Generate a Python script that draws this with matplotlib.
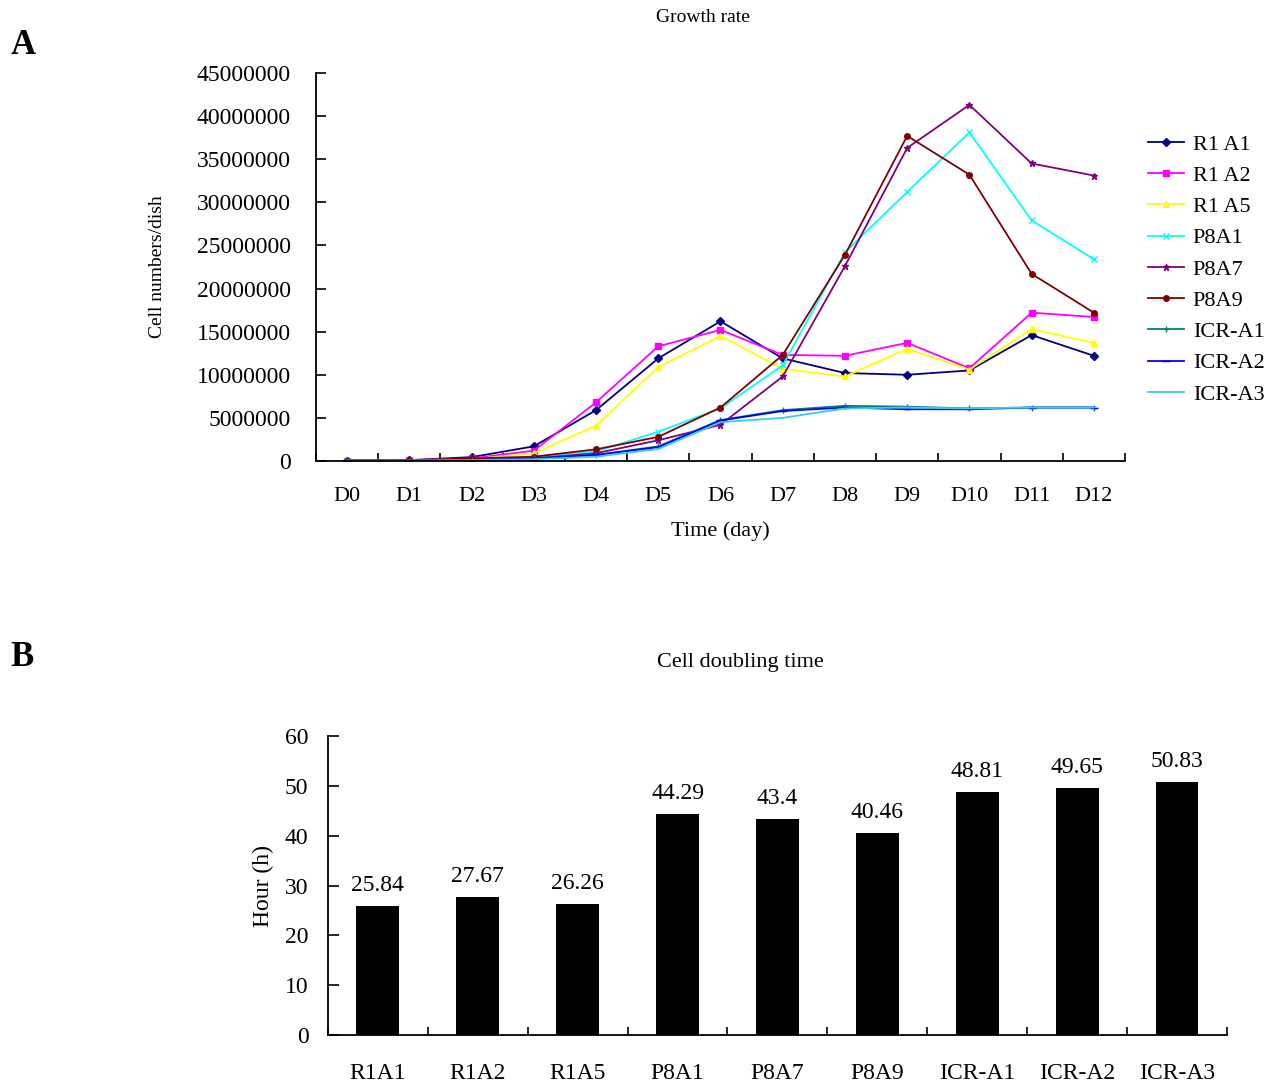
import numpy as np
import matplotlib
matplotlib.use('Agg')
from matplotlib import pyplot as plt
from matplotlib.ticker import FixedLocator, FuncFormatter

plt.rcParams['font.family'] = ['Liberation Serif', 'DejaVu Serif']

# growth rate, cell numbers per dish
days = ['D0', 'D1', 'D2', 'D3', 'D4', 'D5', 'D6', 'D7', 'D8', 'D9', 'D10', 'D11', 'D12']
r1a1 = [50000, 100000, 450000, 1700000, 5900000, 11900000, 16200000, 11900000, 10200000, 10000000, 10500000, 14600000, 12200000]
r1a2 = [50000, 100000, 300000, 1200000, 6800000, 13300000, 15200000, 12300000, 12200000, 13700000, 10750000, 17200000, 16700000]
r1a5 = [20000, 50000, 200000, 900000, 4100000, 10900000, 14500000, 10700000, 9800000, 13000000, 10600000, 15300000, 13700000]
p8a1 = [50000, 80000, 200000, 400000, 1100000, 3400000, 6100000, 11100000, 24200000, 31200000, 38100000, 27900000, 23400000]
p8a7 = [50000, 80000, 200000, 300000, 900000, 2400000, 4200000, 9800000, 22600000, 36300000, 41300000, 34500000, 33100000]
p8a9 = [50000, 80000, 300000, 500000, 1350000, 2800000, 6200000, 12300000, 23900000, 37700000, 33200000, 21700000, 17200000]
icr_a1 = [50000, 50000, 100000, 300000, 700000, 1700000, 4750000, 5900000, 6400000, 6300000, 6100000, 6200000, 6200000]
icr_a2 = [50000, 50000, 100000, 300000, 700000, 1600000, 4700000, 5800000, 6200000, 6000000, 6000000, 6200000, 6200000]
icr_a3 = [50000, 50000, 100000, 200000, 500000, 1400000, 4500000, 5000000, 6100000, 6200000, 6100000, 6200000, 6200000]

# cell doubling time
lines_names = ['R1A1', 'R1A2', 'R1A5', 'P8A1', 'P8A7', 'P8A9', 'ICR-A1', 'ICR-A2', 'ICR-A3']
doubling = [25.84, 27.67, 26.26, 44.29, 43.4, 40.46, 48.81, 49.65, 50.83]

fig = plt.figure(figsize=(12.81, 10.87), dpi=100)

# ---- A: growth rate
ax1 = fig.add_axes([0.2467, 0.5759, 0.6315, 0.357])
series = [r1a1, r1a2, r1a5, p8a1, p8a7, p8a9, icr_a1, icr_a2, icr_a3]
labels = ['R1 A1', 'R1 A2', 'R1 A5', 'P8A1', 'P8A7', 'P8A9', 'ICR-A1', 'ICR-A2', 'ICR-A3']
colors = ['#000080', '#FF00FF', '#FFFF00', '#00FFFF', '#800080', '#800000', '#008080', '#0000FF', '#33CCFF']
markers = ['D', 's', '^', 'x', '*', 'o', '+', '_', None]
msizes = [4, 5, 5, 5, 5, 4, 5, 6, 0]
x = np.arange(len(days))
for s, lab, c, m, ms in zip(series, labels, colors, markers, msizes):
    ax1.plot(x, s, color=c, marker=m, markersize=ms, lw=1.3, label=lab)

ax1.set_xlim(-0.5, len(days) - 0.5)
ax1.set_ylim(0, 45000000)
ax1.yaxis.set_major_locator(FixedLocator(np.arange(0, 45000001, 5000000)))
ax1.yaxis.set_major_formatter(FuncFormatter(lambda v, p: '%d' % v))
ax1.xaxis.set_major_locator(FixedLocator(np.arange(-0.5, len(days), 1)))
ax1.xaxis.set_major_formatter(FuncFormatter(lambda v, p: ''))
ax1.xaxis.set_minor_locator(FixedLocator(x))
ax1.set_xticklabels(days, minor=True)
ax1.tick_params(axis='x', which='major', direction='in', length=6, width=1.2)
ax1.tick_params(axis='x', which='minor', length=0, pad=19, labelsize=16)
ax1.tick_params(axis='y', direction='in', length=7, width=1.2, labelsize=17, pad=18)
for sp in ['top', 'right']:
    ax1.spines[sp].set_visible(False)
for sp in ['left', 'bottom']:
    ax1.spines[sp].set_linewidth(1.3)
ax1.set_xlabel('Time (day)', fontsize=16, labelpad=11)
ax1.set_ylabel('Cell numbers/dish', fontsize=14, labelpad=22)
ax1.legend(loc='upper left', bbox_to_anchor=(1.018, 0.865), frameon=False, fontsize=16,
           handlelength=1.6, handletextpad=0.4, labelspacing=0.48, borderaxespad=0)

fig.text(703 / 1281, 1 - 18 / 1087, 'Growth rate', fontsize=14, ha='center', va='center')
fig.text(0.008, 0.958, 'A', fontsize=25, fontweight='bold', ha='left', va='center')

# ---- B: doubling time
ax2 = fig.add_axes([0.256, 0.0478, 0.7018, 0.2751])
xb = np.arange(len(lines_names))
ax2.bar(xb, doubling, width=0.43, color='black')
for xi, v in zip(xb, doubling):
    ax2.text(xi, v + 2, '%g' % v, ha='center', va='bottom', fontsize=17)
ax2.set_xlim(-0.5, len(lines_names) - 0.5)
ax2.set_ylim(0, 60)
ax2.set_yticks(np.arange(0, 61, 10))
ax2.xaxis.set_major_locator(FixedLocator(np.arange(-0.5, len(lines_names), 1)))
ax2.xaxis.set_major_formatter(FuncFormatter(lambda v, p: ''))
ax2.xaxis.set_minor_locator(FixedLocator(xb))
ax2.set_xticklabels(lines_names, minor=True)
ax2.tick_params(axis='x', which='major', direction='in', length=6, width=1.2)
ax2.tick_params(axis='x', which='minor', length=0, pad=20, labelsize=17)
ax2.tick_params(axis='y', direction='in', length=8, width=1.2, labelsize=17, pad=14)
for sp in ['top', 'right']:
    ax2.spines[sp].set_visible(False)
for sp in ['left', 'bottom']:
    ax2.spines[sp].set_linewidth(1.3)
ax2.set_ylabel('Hour (h)', fontsize=17, labelpad=8)

fig.text(740 / 1281, 1 - 662 / 1087, 'Cell doubling time', fontsize=16, ha='center', va='center')
fig.text(0.008, 0.395, 'B', fontsize=25, fontweight='bold', ha='left', va='center')

fig.savefig('out.png', dpi=100)
